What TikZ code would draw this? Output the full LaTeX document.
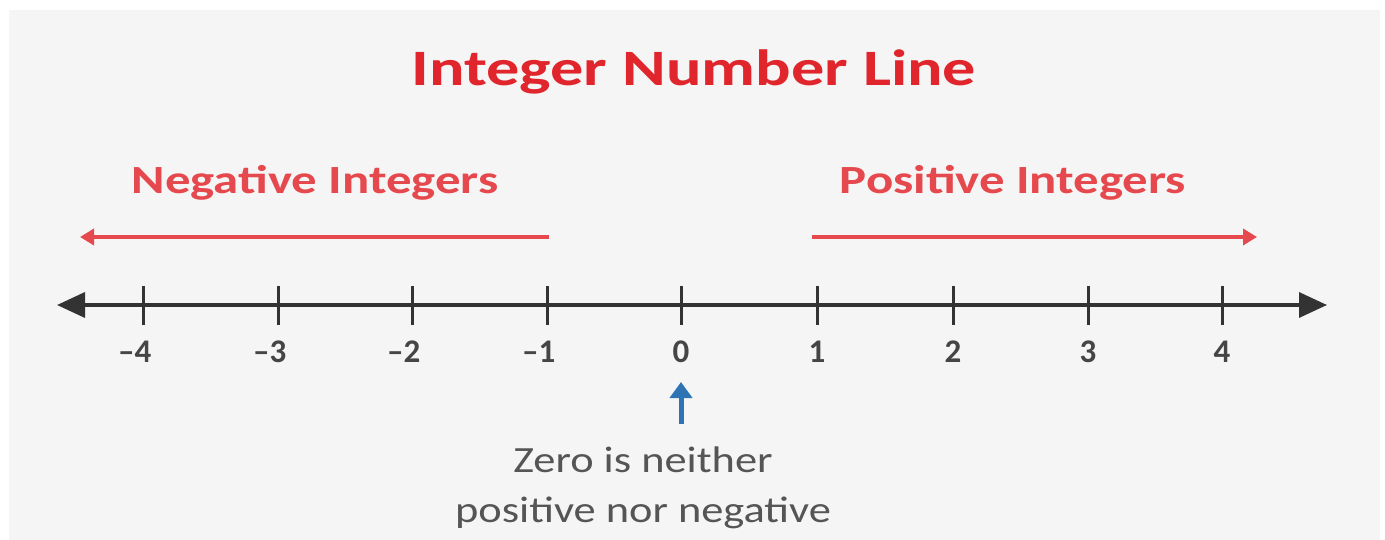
\documentclass[tikz,border=0pt]{standalone}
\usepackage{fontspec}
\usepackage{graphicx}
\setmainfont{Carlito}
\usetikzlibrary{arrows.meta}
\definecolor{bgpanel}{HTML}{F5F5F5}
\definecolor{titlered}{HTML}{E0262C}
\definecolor{subred}{HTML}{E5484D}
\definecolor{axisgray}{HTML}{333333}
\definecolor{labelgray}{HTML}{454545}
\definecolor{notegray}{HTML}{555555}
\definecolor{zeroblue}{HTML}{2E74B5}
\newcommand{\wide}[2]{\scalebox{#1}[1]{#2}}
\tikzset{
  axis/.style={line width=3.5pt, axisgray, {Triangle[length=28pt,width=25pt]}-{Triangle[length=28pt,width=25pt]}},
  tickmark/.style={line width=3pt, axisgray},
  numlabel/.style={font=\fontsize{33}{36}\selectfont\bfseries, text=labelgray, inner sep=0pt},
  redarrow/.style={line width=4pt, subred, -{Triangle[length=14pt,width=16pt]}},
  sublabel/.style={font=\fontsize{40}{48}\selectfont\bfseries, text=subred, inner sep=0pt},
  note/.style={font=\fontsize{37}{50}\selectfont, text=notegray, align=center, inner sep=0pt},
}
\begin{document}
\begin{tikzpicture}[x=1pt,y=-1pt]
\useasboundingbox (0,0) rectangle (1385,540);
\fill[white] (0,0) rectangle (1385,540);
\fill[bgpanel] (9,10) rectangle (1380,540);
% title
\node[font=\fontsize{51}{60}\selectfont\bfseries, text=titlered, inner sep=0pt] (title) at (694,72) {\wide{1.3}{Integer Number Line}};
% sub labels
\node[sublabel] (neglab) at (315,183) {\wide{1.27}{Negative Integers}};
\node[sublabel] (poslab) at (1013,183) {\wide{1.27}{Positive Integers}};
% axis
\coordinate (axL) at (57,305);
\coordinate (axR) at (1327,305);
\draw[axis] (axL) -- (axR);
\foreach \i/\x/\t in {m4/143/{\llap{–}4}, m3/278/{\llap{–}3}, m2/412/{\llap{–}2}, m1/547/{\llap{–}1}, z/681/{0}, p1/817/{1}, p2/953/{2}, p3/1088/{3}, p4/1222/{4}} {
  \coordinate (t\i) at (\x,305);
  \draw[tickmark] (\x,286) -- (\x,325);
  \node[numlabel] (n\i) at (\x,352) {\t};
}
% red arrows
\coordinate (negstart) at (549,237);
\coordinate (negend) at (80,237);
\draw[redarrow] (negstart) -- (negend);
\coordinate (posstart) at (812,237);
\coordinate (posend) at (1257,237);
\draw[redarrow] (posstart) -- (posend);
% note
\node[note] (note) at (643,488) {\wide{1.2}{Zero is neither}\\\wide{1.2}{positive nor negative}};
\coordinate (bluebot) at (681,424);
\draw[line width=5pt, zeroblue, -{Triangle[length=16pt,width=22pt]}] (bluebot) -- (681,382);
\end{tikzpicture}
\end{document}
